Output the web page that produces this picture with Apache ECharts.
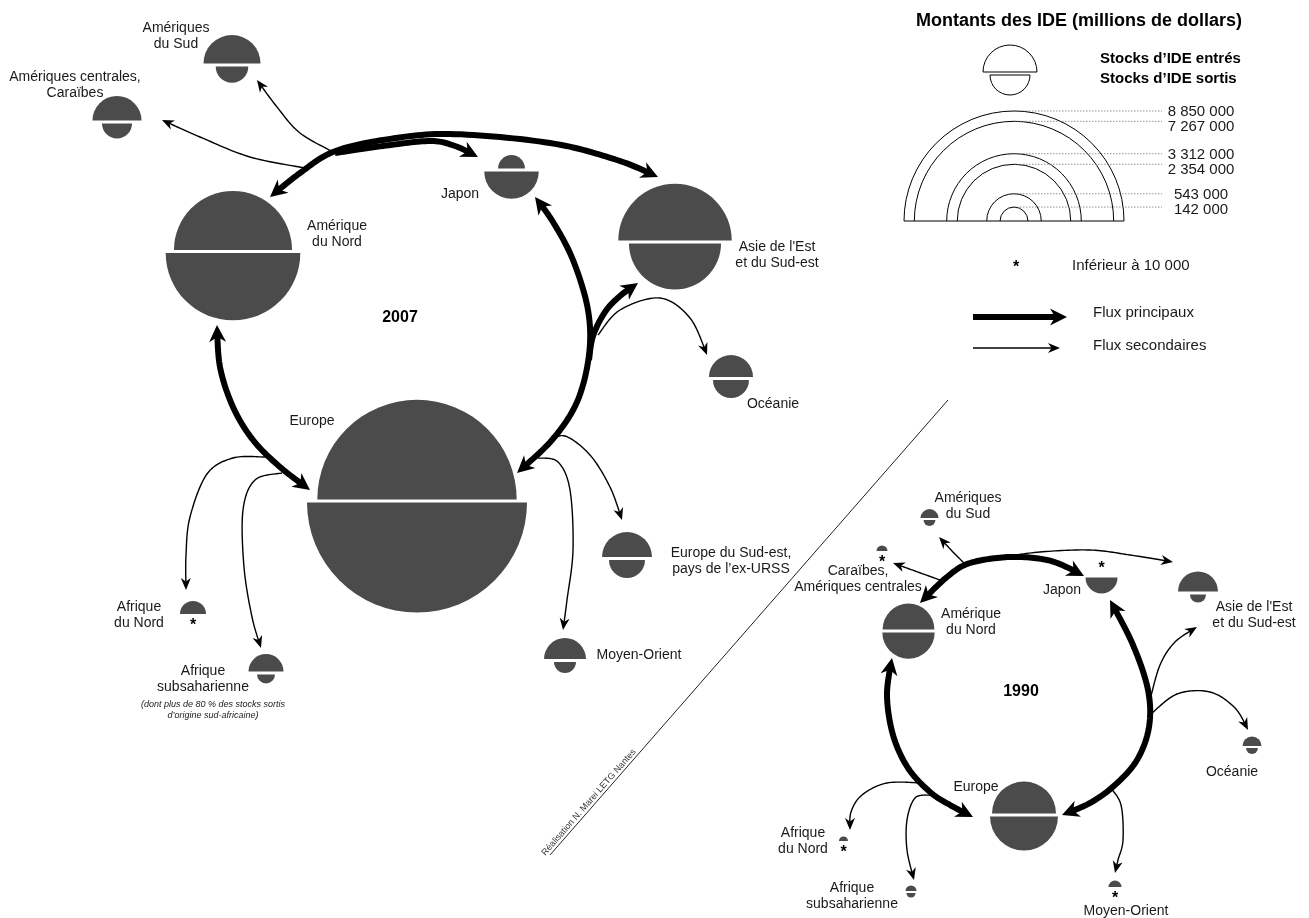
<!DOCTYPE html>
<html>
<head>
<meta charset="utf-8">
<script src="https://cdn.jsdelivr.net/npm/echarts@6/dist/echarts.min.js"></script>
<style>
  html, body { margin: 0; padding: 0; background: #fff; }
  #main { width: 1309px; height: 918px; }
</style>
</head>
<body>
<div id="main"></div>
<script>
// stocks d'IDE (millions de dollars), une valeur < 10 000 est notée par *
const regionNames = ['Amérique du Nord', 'Amériques du Sud', 'Amériques centrales, Caraïbes', 'Japon',
    'Asie de l\'Est et du Sud-est', 'Océanie', 'Europe', 'Europe du Sud-est, pays de l\'ex-URSS',
    'Moyen-Orient', 'Afrique du Nord', 'Afrique subsaharienne'];
const stocksIn2007 = [2550000, 594000, 439000, 132000, 2354000, 354000, 7267000, 457000, 322000, 124000, 224000];
const stocksOut2007 = [3312000, 194000, 165000, 543000, 1550000, 237000, 8850000, 237000, 88000, 8000, 59000];
const stocksIn1990 = [490000, 59000, 22000, 8000, 292000, 66000, 749000, null, 31000, 15000, 22000];
const stocksOut1990 = [500000, 26000, 8000, 187000, 47000, 26000, 845000, null, 8000, 8000, 15000];
// valeurs de la légende
const legendValues = [8850000, 7267000, 3312000, 2354000, 543000, 142000];

// textes affichés
const labels2007 = ['Amérique\ndu Nord', 'Amériques\ndu Sud', 'Amériques centrales,\nCaraïbes', 'Japon',
    'Asie de l\'Est\net du Sud-est', 'Océanie', 'Europe', 'Europe du Sud-est,\npays de l’ex-URSS',
    'Moyen-Orient', 'Afrique\ndu Nord', 'Afrique\nsubsaharienne'];
const labels1990 = ['Amérique\ndu Nord', 'Amériques\ndu Sud', 'Caraïbes,\nAmériques centrales', 'Japon',
    'Asie de l\'Est\net du Sud-est', 'Océanie', 'Europe', '',
    'Moyen-Orient', 'Afrique\ndu Nord', 'Afrique\nsubsaharienne'];

// mise en page du schéma (repère 1309 x 918)
const pos2007 = [[233, 251.5], [232, 65], [117, 122], [511.5, 170], [675, 242], [731, 378.5],
    [417, 501], [627, 558.5], [565, 660.5], [193, 615], [266, 673]];
const pos1990 = [[908.5, 631], [929.5, 519], [882, 552], [1101.5, 576], [1198, 593], [1252, 747],
    [1024, 815], null, [1115, 888], [843.5, 842], [911, 892]];
const lbl2007 = [[337, 234], [176, 36], [75, 85], [460, 194], [777, 255.5], [773, 404],
    [312, 421], [731, 561], [639, 655], [139, 615], [203, 679]];
const lbl1990 = [[971, 622.5], [968, 506], [858, 579.5], [1062, 590], [1254, 615.5], [1232, 772],
    [976, 787], null, [1126, 911], [803, 841], [852, 896]];

// tracés des flux
const flowPaths = [
    // 2007 flux principaux
    {pts: [[217, 325], [220, 367], [233, 407], [253, 440], [280, 467], [310, 490]], main: true, start: true, end: true},
    {pts: [[270, 197], [300, 173], [333, 152], [383, 140], [450, 134], [550, 143], [617, 160], [658, 177]], main: true, start: true, end: true},
    {pts: [[335, 153], [383, 146], [430, 141], [455, 146], [478, 157]], main: true, end: true},
    {pts: [[517, 473], [552, 440], [577, 402], [589, 355], [588, 310], [573, 260], [553, 222], [535, 197]], main: true, start: true, end: true},
    {pts: [[589, 360], [593, 336], [605, 312], [620, 296], [638, 283]], main: true, end: true},
    // 2007 flux secondaires
    {pts: [[305, 168], [250, 157], [200, 137], [162, 120]], end: true},
    {pts: [[335, 153], [300, 133], [277, 107], [257, 80]], end: true},
    {pts: [[598, 335], [620, 310], [660, 298], [690, 318], [707, 355]], end: true},
    {pts: [[548, 442], [565, 436], [590, 455], [610, 487], [622, 520]], end: true},
    {pts: [[538, 458], [558, 462], [570, 490], [573, 550], [567, 600], [563, 630]], end: true},
    {pts: [[265, 457], [233, 458], [207, 474], [190, 517], [186, 555], [186, 590]], end: true},
    {pts: [[282, 473], [255, 480], [243, 510], [244, 567], [252, 617], [261, 648]], end: true},
    // 1990 flux principaux
    {pts: [[920, 603], [947, 577], [970, 563], [1010, 557], [1047, 560], [1073, 570], [1084, 576]], main: true, start: true, end: true},
    {pts: [[1110, 600], [1133, 645], [1148, 690], [1149, 727], [1137, 760], [1115, 785], [1090, 803], [1062, 815]], main: true, start: true, end: true},
    {pts: [[892, 658], [887, 695], [893, 735], [908, 768], [930, 792], [950, 805], [973, 817]], main: true, start: true, end: true},
    // 1990 flux secondaires
    {pts: [[967, 566], [952, 551], [939, 537]], end: true},
    {pts: [[940, 580], [915, 571], [893, 563]], end: true},
    {pts: [[1003, 557], [1040, 552], [1090, 550], [1130, 555], [1173, 562]], end: true},
    {pts: [[1150, 700], [1160, 665], [1175, 642], [1197, 627]], end: true},
    {pts: [[1150, 715], [1177, 694], [1210, 692], [1235, 708], [1248, 730]], end: true},
    {pts: [[923, 783], [887, 783], [862, 795], [851, 812], [850, 830]], end: true},
    {pts: [[930, 795], [915, 798], [907, 820], [907, 850], [914, 880]], end: true},
    {pts: [[1110, 787], [1121, 805], [1123, 840], [1118, 860], [1115, 873]], end: true},
    // légende
    {pts: [[973, 317], [1020, 317], [1067, 317]], main: true, end: true},
    {pts: [[973, 348], [1016, 348], [1060, 348]], end: true}
];

const legendCenter = [1014, 221];
const K = 110 / Math.sqrt(8850000); // rayon = K * racine(valeur)
const DISC = '#4b4b4b';
const FONT = '"Liberation Sans", Arial, sans-serif';

// liste des cercles à dessiner
let nodes = [];
const pushNodes = (pos, lbl, vin, vout, labels) => {
    pos.forEach((p, i) => {
        if (!p) return;
        nodes.push({x: p[0], y: p[1], vin: vin[i], vout: vout[i], label: labels[i], lx: lbl[i][0], ly: lbl[i][1]});
    });
};
pushNodes(pos2007, lbl2007, stocksIn2007, stocksOut2007, labels2007);
pushNodes(pos1990, lbl1990, stocksIn1990, stocksOut1990, labels1990);

// courbe de Catmull-Rom passant par les points
const catmull = (pts, seg) => {
    const out = [];
    for (let i = 0; i < pts.length - 1; i++) {
        const p0 = pts[i - 1] || pts[i], p1 = pts[i], p2 = pts[i + 1], p3 = pts[i + 2] || pts[i + 1];
        for (let t = 0; t < seg; t++) {
            const s = t / seg, s2 = s * s, s3 = s2 * s;
            out.push([0, 1].map(k => 0.5 * (2 * p1[k] + (-p0[k] + p2[k]) * s +
                (2 * p0[k] - 5 * p1[k] + 4 * p2[k] - p3[k]) * s2 +
                (-p0[k] + 3 * p1[k] - 3 * p2[k] + p3[k]) * s3)));
        }
    }
    out.push(pts[pts.length - 1]);
    return out;
};
// point situé à la distance len du bout de la courbe, et index de coupure
const walkBack = (path, len) => {
    let acc = 0;
    for (let i = path.length - 1; i > 0; i--) {
        const a = path[i], b = path[i - 1];
        const d = Math.hypot(a[0] - b[0], a[1] - b[1]);
        if (acc + d >= len) {
            const t = (len - acc) / d;
            return {pt: [a[0] + (b[0] - a[0]) * t, a[1] + (b[1] - a[1]) * t], idx: i};
        }
        acc += d;
    }
    return {pt: path[0], idx: 1};
};
const arrowHead = (tip, from, L, W) => {
    let dx = tip[0] - from[0], dy = tip[1] - from[1];
    const d = Math.hypot(dx, dy) || 1;
    dx /= d; dy /= d;
    const bx = tip[0] - dx * L, by = tip[1] - dy * L;
    const nx = -dy, ny = dx;
    return [[tip[0], tip[1]], [bx + nx * W, by + ny * W], [tip[0] - dx * L * 0.7, tip[1] - dy * L * 0.7], [bx - nx * W, by - ny * W]];
};

const renderFlow = (params, api) => {
    const f = flowPaths[params.dataIndex];
    const w = f.main ? 6 : 1.4, L = f.main ? 17 : 12, W = f.main ? 8.5 : 5;
    let path = catmull(f.pts.map(p => api.coord(p)), 16);
    const children = [];
    const cut = p => {
        const tip = p[p.length - 1];
        const dir = walkBack(p, L);
        children.push({type: 'polygon', shape: {points: arrowHead(tip, dir.pt, L, W)}, style: {fill: '#000'}});
        const c = walkBack(p, L * 0.6);
        return p.slice(0, c.idx).concat([c.pt]);
    };
    if (f.end) path = cut(path);
    if (f.start) path = cut(path.slice().reverse()).reverse();
    children.unshift({type: 'polyline', shape: {points: path},
        style: {stroke: '#000', lineWidth: w, fill: null, lineJoin: 'round'}});
    return {type: 'group', children: children};
};

const txt = (text, x, y, font, align, extra) => Object.assign({
    text: text, x: x, y: y, font: font, fill: '#1a1a1a',
    textAlign: align || 'center', align: align || 'center',
    textVerticalAlign: 'middle', verticalAlign: 'middle'
}, extra || {});

const renderNode = (params, api) => {
    const nd = nodes[params.dataIndex];
    const c = api.coord([nd.x, nd.y]);
    const children = [];
    const rMax = Math.max(nd.vin || 0, nd.vout || 0);
    const gap = api.size([K * Math.sqrt(rMax), 0])[0] > 15 ? 3 : 2;
    [[nd.vin, true], [nd.vout, false]].forEach(([v, top]) => {
        if (v == null) return;
        if (v < 10000) {
            children.push({type: 'text', style: txt('*', c[0], top ? c[1] - 7 : c[1] + 11, 'bold 16px ' + FONT, 'center', {fill: '#000'})});
            return;
        }
        const r = api.size([K * Math.sqrt(v), 0])[0];
        children.push({type: 'sector', shape: {cx: c[0], cy: top ? c[1] - gap / 2 : c[1] + gap / 2, r0: 0, r: r,
                startAngle: top ? Math.PI : 0, endAngle: top ? Math.PI * 2 : Math.PI, clockwise: true},
            style: {fill: DISC}});
    });
    if (nd.label) {
        const l = api.coord([nd.lx, nd.ly]);
        children.push({type: 'text', style: txt(nd.label, l[0], l[1], '14px ' + FONT, 'center', {lineHeight: 16})});
    }
    return {type: 'group', children: children};
};

const fmt = v => String(v).replace(/\B(?=(\d{3})+(?!\d))/g, ' ');

const renderLegendArc = (params, api) => {
    const c = api.coord(legendCenter);
    const radii = legendValues.map(v => api.size([K * Math.sqrt(v), 0])[0]);
    // positions des étiquettes, écartées si trop proches
    let ys = [];
    radii.forEach((r, i) => {
        let y = c[1] - r;
        if (i > 0) y = Math.max(y, ys[i - 1] + 15);
        ys.push(y);
    });
    const i = params.dataIndex, r = radii[i];
    const children = [
        {type: 'arc', shape: {cx: c[0], cy: c[1], r: r, startAngle: Math.PI, endAngle: Math.PI * 2, clockwise: true},
            style: {stroke: '#000', lineWidth: 1, fill: null}},
        {type: 'line', shape: {x1: c[0], y1: c[1] - r, x2: 1162, y2: c[1] - r},
            style: {stroke: '#777', lineWidth: 0.8, lineDash: [1.5, 1.5]}},
        {type: 'text', style: txt(fmt(legendValues[i]), 1201, ys[i] + 1, '15px ' + FONT, 'center')}
    ];
    if (i === 0) {
        children.push({type: 'line', shape: {x1: c[0] - r, y1: c[1], x2: c[0] + r, y2: c[1]},
            style: {stroke: '#000', lineWidth: 1}});
    }
    return {type: 'group', children: children};
};

const gText = (text, x, y, font, align, extra) => ({type: 'text', x: x, y: y, style: txt(text, 0, 0, font, align, extra)});

const chart = echarts.init(document.getElementById('main'));
const option = {
    animation: false,
    backgroundColor: '#fff',
    grid: {left: 0, right: 0, top: 0, bottom: 0},
    xAxis: {type: 'value', min: 0, max: 1309, show: false},
    yAxis: {type: 'value', min: 0, max: 918, inverse: true, show: false},
    graphic: [
        gText('Montants des IDE (millions de dollars)', 1079, 21, 'bold 18px ' + FONT, 'center', {fill: '#000'}),
        {type: 'sector', shape: {cx: 1010, cy: 72, r0: 0, r: 27, startAngle: Math.PI, endAngle: Math.PI * 2},
            style: {fill: '#fff', stroke: '#000', lineWidth: 1}},
        {type: 'sector', shape: {cx: 1010, cy: 75, r0: 0, r: 20, startAngle: 0, endAngle: Math.PI},
            style: {fill: '#fff', stroke: '#000', lineWidth: 1}},
        gText('Stocks d’IDE entrés', 1100, 59, 'bold 15px ' + FONT, 'left', {fill: '#000'}),
        gText('Stocks d’IDE sortis', 1100, 79, 'bold 15px ' + FONT, 'left', {fill: '#000'}),
        gText('*', 1016, 268, 'bold 16px ' + FONT, 'center', {fill: '#000'}),
        gText('Inférieur à 10 000', 1072, 266, '15px ' + FONT, 'left'),
        gText('Flux principaux', 1093, 313, '15px ' + FONT, 'left'),
        gText('Flux secondaires', 1093, 346, '15px ' + FONT, 'left'),
        gText('2007', 400, 318, 'bold 16px ' + FONT, 'center', {fill: '#000'}),
        gText('1990', 1021, 692, 'bold 16px ' + FONT, 'center', {fill: '#000'}),
        gText('(dont plus de 80 % des stocks sortis\nd’origine sud-africaine)', 213, 710, 'italic 9px ' + FONT, 'center', {lineHeight: 11}),
        {type: 'line', shape: {x1: 948, y1: 400, x2: 550, y2: 855}, style: {stroke: '#222', lineWidth: 1}},
        {type: 'text', x: 593, y: 806, rotation: Math.atan2(455, 398),
            style: {text: 'Réalisation N. Marei LETG Nantes', x: 0, y: -1, font: '9px ' + FONT, fill: '#333',
                textAlign: 'center', align: 'center', textVerticalAlign: 'bottom', verticalAlign: 'bottom'}}
    ],
    series: [
        {
            type: 'custom',
            name: 'flux',
            coordinateSystem: 'cartesian2d',
            clip: false,
            z: 2,
            renderItem: renderFlow,
            data: flowPaths.map(f => f.pts[0])
        },
        {
            type: 'custom',
            name: 'stocks',
            coordinateSystem: 'cartesian2d',
            clip: false,
            z: 3,
            renderItem: renderNode,
            data: nodes.map(n => [n.x, n.y])
        },
        {
            type: 'custom',
            name: 'legende',
            coordinateSystem: 'cartesian2d',
            clip: false,
            z: 3,
            renderItem: renderLegendArc,
            data: legendValues.map(() => legendCenter)
        }
    ]
};
chart.setOption(option);
</script>
</body>
</html>
